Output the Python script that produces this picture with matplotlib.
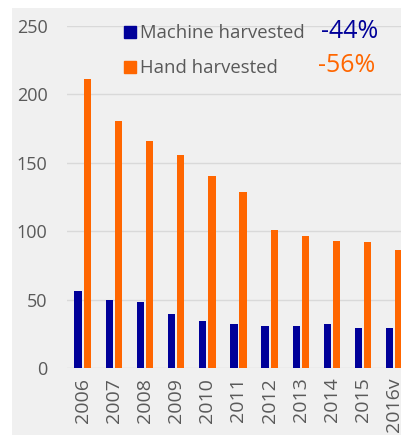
import matplotlib.pyplot as plt
import numpy as np
from matplotlib.patches import Rectangle
from matplotlib.lines import Line2D

years = ["2006", "2007", "2008", "2009", "2010", "2011", "2012", "2013", "2014", "2015", "2016v"]
machine = [56.5, 50, 48.5, 39.5, 34.5, 32, 30.5, 30.5, 32, 29.5, 29.5]
hand = [211, 180.5, 166, 155.5, 140, 128.5, 101, 96.5, 93, 92, 86]
yticks = [0, 50, 100, 150, 200, 250]

blue = "#000099"
orange = "#FF6600"
grey_txt = "#595959"

plt.rcParams['font.family'] = ['Open Sans', 'DejaVu Sans']

fig = plt.figure(figsize=(4.01, 4.36), dpi=100)
fig.patch.set_facecolor("white")
fig.patches.append(Rectangle((12 / 401, 1 / 436), 1, (435 - 8) / 436,
                             transform=fig.transFigure, facecolor="#f0f0f0",
                             edgecolor="none", zorder=-10))

ax = fig.add_axes([67 / 401, 68 / 436, 343 / 401, 342 / 436])
ax.set_facecolor("none")

x = np.arange(len(years))
w = 0.235
ax.bar(x - w / 2 - 0.03, machine, width=w, color=blue, zorder=3)
ax.bar(x + w / 2 + 0.03, hand, width=w, color=orange, zorder=3)

ax.set_xlim(-0.5, len(years) - 0.5)
ax.set_ylim(0, 250)
ax.set_yticks(yticks)
ax.set_xticks(x)
ax.set_xticklabels(years, rotation=90)
ax.grid(axis="y", color="#d9d9d9", linewidth=1, zorder=0)
ax.tick_params(axis="y", length=0, pad=14, labelsize=13, labelcolor=grey_txt)
ax.tick_params(axis="x", length=0, pad=7, labelsize=14, labelcolor=grey_txt)
for s in ax.spines.values():
    s.set_visible(False)

handles = [Line2D([], [], marker="s", linestyle="none", color=blue, markersize=8),
           Line2D([], [], marker="s", linestyle="none", color=orange, markersize=8)]
leg = ax.legend(handles, ["Machine harvested", "Hand harvested"],
                loc="upper left", bbox_to_anchor=(115 / 401, 1 - 17 / 436),
                bbox_transform=fig.transFigure, frameon=False,
                fontsize=13.3, handlelength=0.8, handletextpad=0.15,
                labelspacing=0.9, borderaxespad=0)
for t in leg.get_texts():
    t.set_color(grey_txt)

fig.text(350 / 401, 1 - 32 / 436, "-44%", color=blue, fontsize=18,
         ha="center", va="center")
fig.text(347 / 401, 1 - 66 / 436, "-56%", color=orange, fontsize=18,
         ha="center", va="center")

fig.savefig("out.png", dpi=100, facecolor=fig.get_facecolor())
